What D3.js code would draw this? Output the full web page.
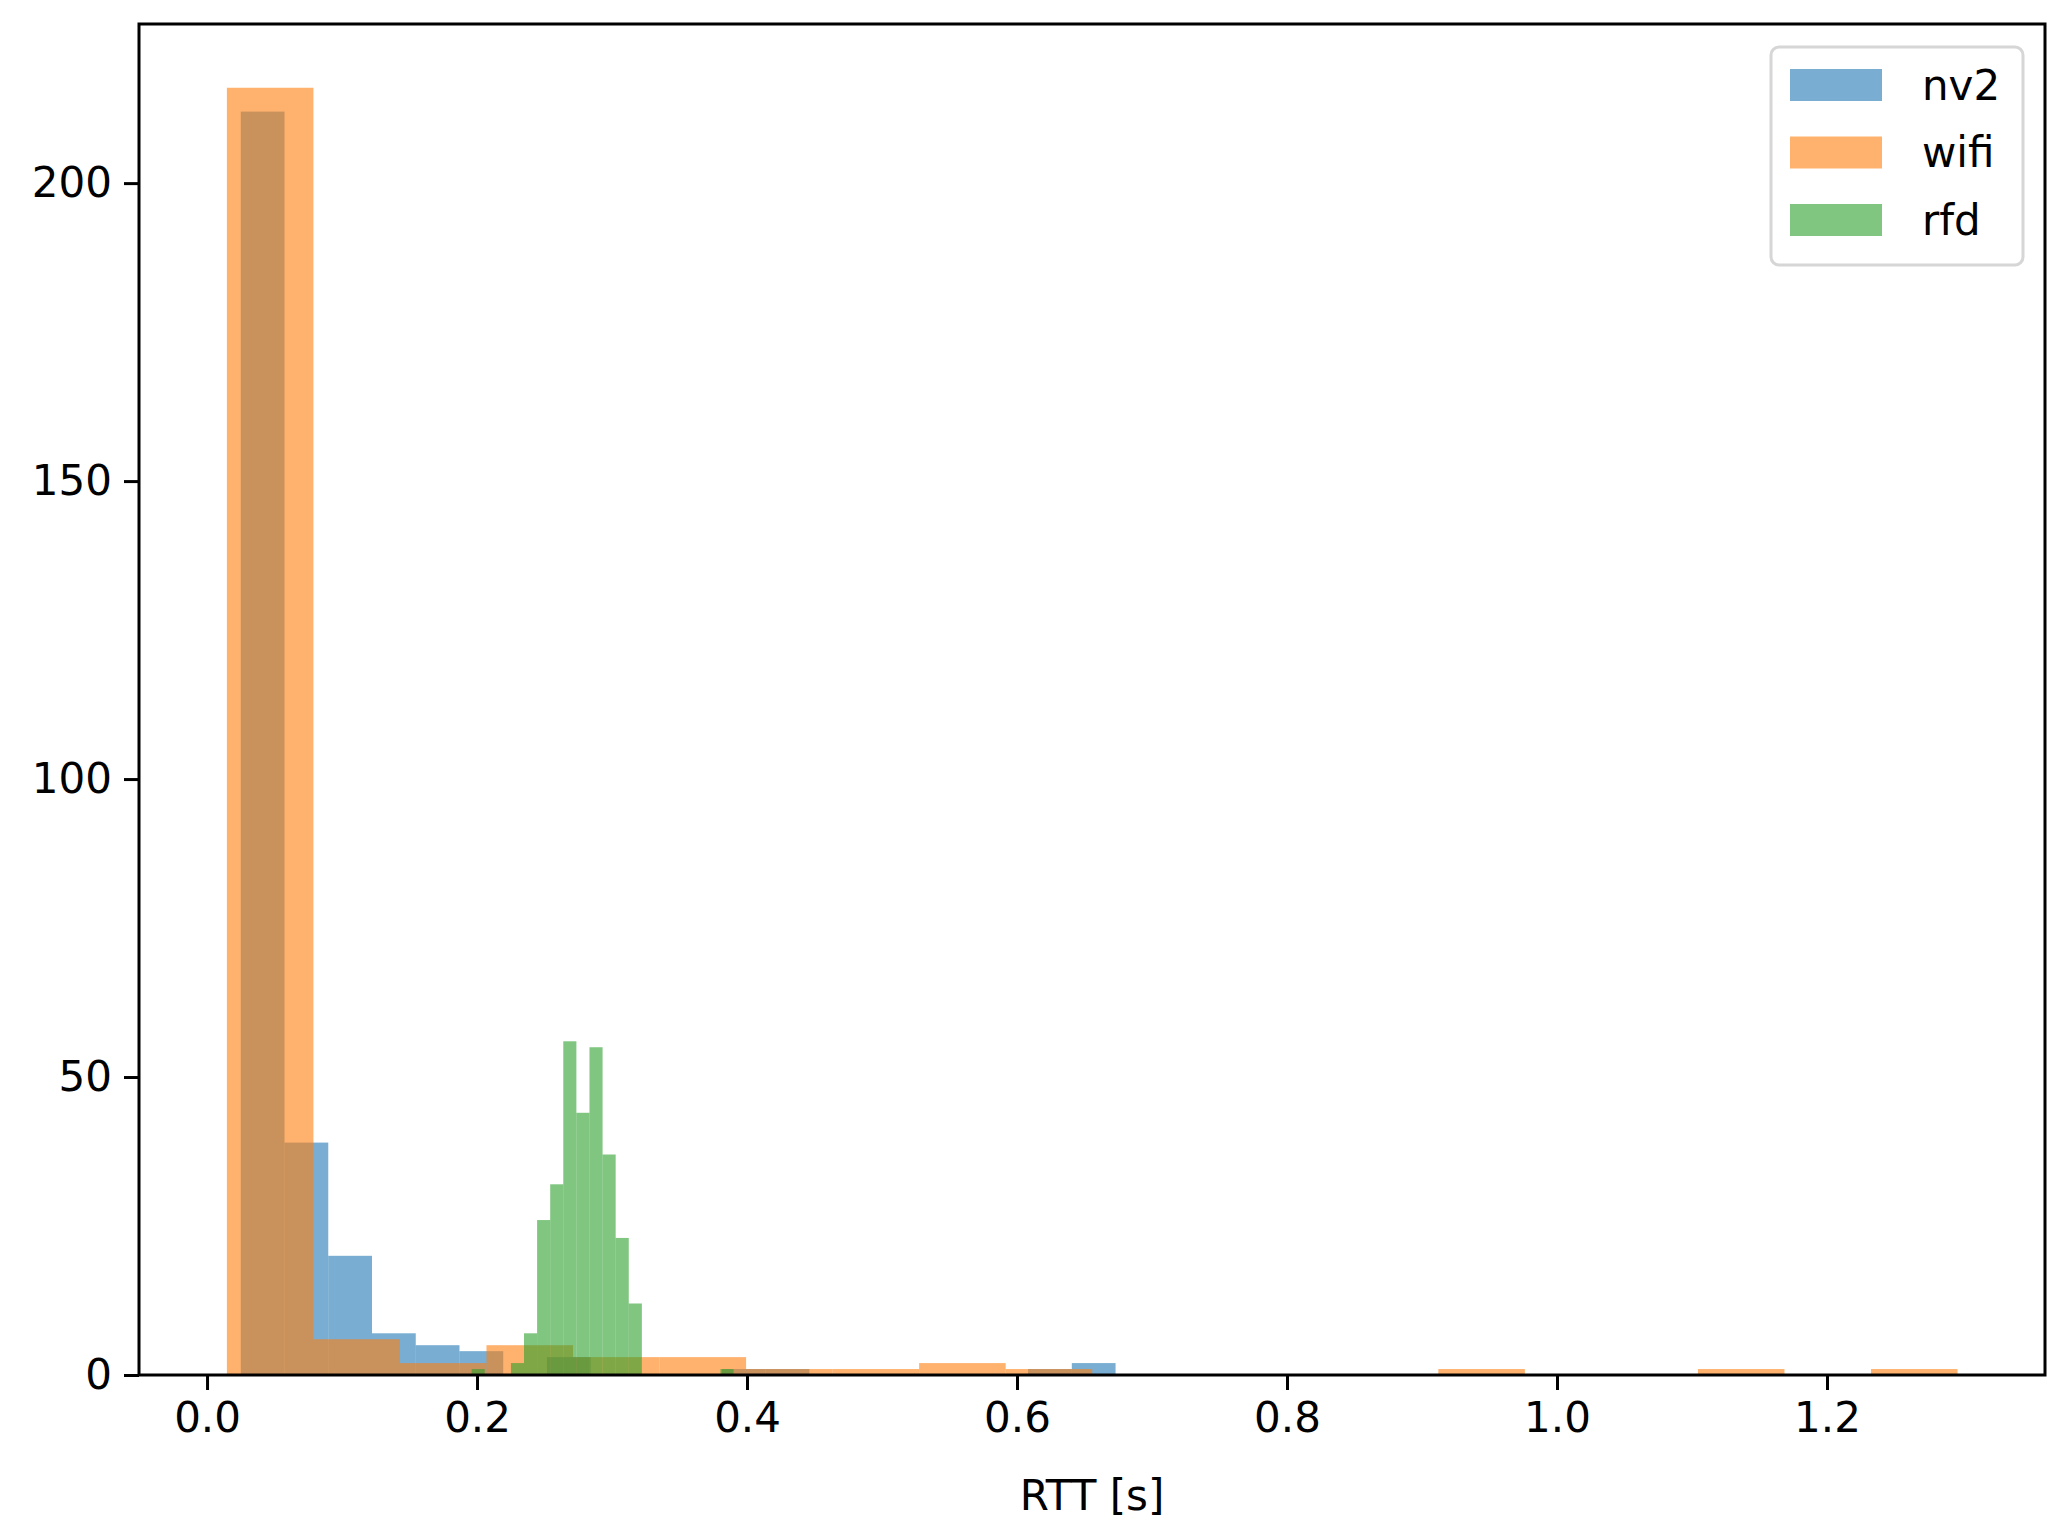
<!DOCTYPE html>
<html><head><meta charset="utf-8">
<script src="https://cdn.jsdelivr.net/npm/d3@7"></script>
<style>body{margin:0;background:#fff}text{font-family:"DejaVu Sans",sans-serif}</style>
</head><body><svg id="c" width="2071" height="1532"></svg>
<script>
const seriesNames = ["nv2", "wifi", "rfd"];
const colors = ["#1f77b4", "#ff7f0e", "#2ca02c"];
const binStart = [0.025, 0.0147, 0.196];
const binWidth = [0.0324, 0.0641, 0.0097];
const nv2Counts = [212, 39, 20, 7, 5, 4, 0, 3, 0, 0, 0, 1, 1, 0, 0, 0, 0, 0, 1, 2];
const wifiCounts = [216, 6, 2, 5, 3, 3, 1, 1, 2, 1, 0, 0, 0, 0, 1, 0, 0, 1, 0, 1];
const rfdCounts = [1, 0, 0, 2, 7, 26, 32, 56, 44, 55, 37, 23, 12, 0, 0, 0, 0, 0, 0, 1];
const xTicks = [0.0, 0.2, 0.4, 0.6, 0.8, 1.0, 1.2];
const yTicks = [0, 50, 100, 150, 200];

const svg = d3.select("#c");
const L = 139, R = 2045, T = 24, B = 1375;
const x = d3.scaleLinear().domain([-0.0504, 1.3615]).range([L, R]);
const y = d3.scaleLinear().domain([0, 226.7]).range([B, T]);

const all = [nv2Counts, wifiCounts, rfdCounts];
all.forEach((counts, s) => {
  const bins = counts.map((c, i) => ({x0: binStart[s] + i * binWidth[s], x1: binStart[s] + (i + 1) * binWidth[s], c}));
  svg.append("g").selectAll("rect").data(bins.filter(b => b.c > 0)).join("rect")
    .attr("x", d => x(d.x0)).attr("width", d => x(d.x1) - x(d.x0))
    .attr("y", d => y(d.c)).attr("height", d => y(0) - y(d.c))
    .attr("fill", colors[s]).attr("fill-opacity", 0.6);
});

const xa = svg.append("g").attr("transform", `translate(0,${B})`)
  .call(d3.axisBottom(x).tickValues(xTicks).tickFormat(d3.format(".1f")).tickSize(15).tickPadding(12));
const ya = svg.append("g").attr("transform", `translate(${L},0)`)
  .call(d3.axisLeft(y).tickValues(yTicks).tickSize(15).tickPadding(12));
[xa, ya].forEach(a => {
  a.select(".domain").remove();
  a.selectAll("line").attr("stroke", "#000").attr("stroke-width", 3);
  a.selectAll("text").attr("font-size", 42).attr("fill", "#000").attr("font-family", "DejaVu Sans");
});
svg.append("rect").attr("x", L).attr("y", T).attr("width", R - L).attr("height", B - T)
  .attr("fill", "none").attr("stroke", "#000").attr("stroke-width", 3);

svg.append("text").attr("x", (L + R) / 2).attr("y", 1510).attr("text-anchor", "middle")
  .attr("font-size", 42).text("RTT [s]");

const lg = svg.append("g");
lg.append("rect").attr("x", 1771).attr("y", 47).attr("width", 252).attr("height", 218).attr("rx", 8)
  .attr("fill", "#fff").attr("fill-opacity", 0.8).attr("stroke", "#d6d6d6").attr("stroke-width", 3);
seriesNames.forEach((n, i) => {
  lg.append("rect").attr("x", 1790).attr("y", 69 + i * 67.5).attr("width", 92).attr("height", 32)
    .attr("fill", colors[i]).attr("fill-opacity", 0.6);
  lg.append("text").attr("x", 1922).attr("y", 85 + i * 67.5).attr("dy", "0.35em")
    .attr("font-size", 42).text(n);
});
</script></body></html>
